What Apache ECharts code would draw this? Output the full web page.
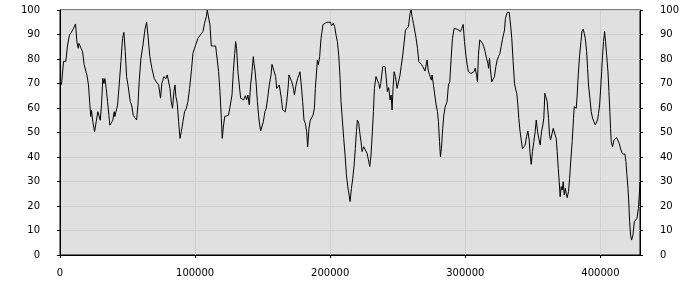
<!DOCTYPE html>
<html>
<head>
<meta charset="utf-8">
<script src="https://cdn.jsdelivr.net/npm/echarts@6/dist/echarts.min.js"></script>
<style>html,body{margin:0;padding:0;background:#fff}#c{width:700px;height:300px}</style>
</head>
<body>
<div id="c"></div>
<script>
var xTicks = [0, 100000, 200000, 300000, 400000];
var yTicks = [0, 10, 20, 30, 40, 50, 60, 70, 80, 90, 100];
var xs = [
1100,2600,4300,5600,7000,8500,10000,11500,12500,13500,14000,15400,16700,17900,19900,21100,22100,22800,23300,24300,25600,26800,28000,29000,29800,30700,31700,32500,33200,34200,35200,36200,36900,38100,39100,40100,40600,41900,42600,43800,45100,46300,47300,48300,49300,50500,52000,53000,54200,55400,56700,57700,58600,59900,61400,62800,64100,65100,66500,68000,69800,
71200,73000,74400,75400,76900,78400,79400,80400,81400,82300,83300,84300,85100,85800,86800,87800,88800,89800,91000,92200,93500,94700,95900,97200,98400,99600,100900,102100,103300,104600,105800,107000,108300,109000,110200,111000,112000,113500,115200,116400,117400,118400,119400,120100,121100,121900,123100,124800,126000,127300,128300,129300,130000,130700,131700,132700,133700,134700,135900,137200,138100,139100,140100,141100,142100,143100,
143600,144300,145100,146100,147300,148500,149500,150500,151700,152700,153700,154900,156200,156900,157700,158600,159600,160400,161400,162300,163100,163800,164800,165800,166800,167800,168800,169500,170500,171500,172500,173500,174700,175900,176900,177600,178600,179600,180600,181600,182600,183300,184300,185300,186300,187300,188300,189000,190000,190500,191200,192200,193200,194700,196200,197700,199100,200100,201100,202300,203300,204300,205300,206300,207300,208000,209000,210000,211000,212000,213000,214000,
214700,215700,216700,217700,218600,219400,220100,221100,222100,222800,223600,224800,226100,227300,228300,229300,230200,231200,232000,232700,233900,234900,235900,236700,237400,238900,239900,240600,241600,242300,243300,244300,245100,245800,246500,247300,248300,249500,250700,251700,252500,253700,254700,255700,256900,257900,259100,259900,260600,261600,262600,263600,264600,265600,266500,267500,268500,269500,270200,271000,271700,272500,273500,274200,274900,275400,276400,277400,278400,279400,280100,280900,281600,282300,283300,284100,285100,
286500,287500,288500,289500,290500,291700,293000,294200,295400,296400,297400,298400,299400,300400,301400,302300,303300,304300,305300,306300,307300,308300,309000,309700,310700,311700,312700,313700,314700,315700,316700,317200,317900,318600,319600,320600,321600,322600,323600,324600,325600,326500,327500,328300,329000,329700,331000,331700,332500,333500,334400,335400,336400,337400,338100,338900,339600,340400,341400,342300,343300,344300,345300,346300,347300,348000,348800,349700,350700,351700,352500,353500,354400,355400,356400,357400,
358100,358900,359900,360600,361600,362300,363100,364100,365100,365800,366500,367300,368000,368800,369500,370200,371000,371700,372500,373200,374000,374700,375400,376400,377200,378100,379100,380100,380600,381400,382100,382800,383600,384600,385600,386300,387300,388000,388800,389800,390500,391200,392200,393200,394200,395200,396200,397200,397900,398600,399400,400100,400900,401600,402300,403100,403800,404600,405600,406300,407000,407500,408000,409000,410000,411000,412000,413000,413900,415200,416400,417400,418100,418900,419600,420400,421100,421600,422300,423100,424100,425100,426100,427100,428100,428800,429300
];
var ys = [
69.5,79,79,85.7,89.8,91,92.5,94.3,87,84.4,86.4,85.7,83,77.6,73.5,69.4,61.2,56.5,59,54.4,50.3,54.4,58.5,59.2,55,61.2,72.1,70,72,68,62.6,57,53,53.3,55,58.5,56.5,56.3,61.2,69.4,79,88.4,90.9,83,72.8,68.7,62.6,61.2,57,56.5,55.1,61.2,70.7,80.3,85.7,91.8,95,89.8,81,76.2,72,
70.7,69.4,64,70,72.8,72,73.5,74.1,68,62.6,59.9,66.7,69.4,64.6,61.9,54.4,47.6,50.3,54.4,58.5,59.9,62.6,68,74.8,82.3,84.4,85,88.4,89.4,89.4,91.2,94.6,97.3,100,100,93.9,85.3,85.3,85.3,85.3,74.8,66.7,55.8,47.6,53.1,56.5,57.1,57.1,57.1,65.3,74.8,82.3,87.1,84.4,74.8,69.4,64,63.7,63.3,65,63.3,65.3,61.2,69.4,74.8,81,
78.2,75.5,70.7,62.6,55.1,50.6,50.3,54.4,58.5,59.9,64,69.4,73.5,77.8,78.2,74.8,72.8,68,67.3,69.4,69.4,64,59.2,59.6,58.5,62.6,68,73.5,74.1,70.7,68.7,65.3,69.4,72.1,73.5,74.8,69.4,62.6,55.1,53.7,50.3,44.2,51.7,55.1,54.4,57.1,59.9,68,75.5,79.6,77.6,81,88.4,94.1,94.6,95,95,95,93.6,94.6,93.2,89.8,87.1,81.6,72.1,62.6,55.1,47.6,40.8,32.7,27.9,24.5,21.8,
27.2,31.3,36.7,43.5,50.3,55.1,53.7,49,46.3,42.2,44.2,44.2,41.5,38.8,36.1,40.8,50.3,58.5,68,72.8,71.4,70,68,70,76.9,76.9,76.9,71.4,66.7,68.3,63.3,65.3,59.2,68,74.8,72.8,68,68,73.5,76.9,81.6,82.3,91.8,92.2,93.2,98.6,100,97.3,94.6,93.9,88.4,84.4,78.9,78.2,77.8,76.9,76.2,75.1,77.6,79.6,75.5,73.5,72.8,71.4,73.5,69.4,65.3,61.2,58.5,54.4,46.3,40.1,43.5,51.7,57.1,60.5,62.6,
69.4,70.7,80.3,88.4,92.5,92.2,92.1,92.1,91.2,92.5,94.1,87.1,81.6,77.6,74.8,74.1,74.1,74.1,74.8,76.2,73.5,70.7,81.6,87.8,88.4,86.4,85,83,80.3,78.2,76.2,80.3,75.5,70.7,70,72.8,76.9,79.6,81,82.3,85,88,88.4,91.8,96.6,99,99,99,93.9,88.4,78.9,70,67.3,66,61.2,55.8,51,46.9,43.3,43.3,44.9,48.3,50.6,46.9,40.8,37,42.2,46.3,50.3,55.1,50.3,47.6,44.9,50.3,53.1,55.8,66,
65.3,62.6,55.8,49,46.9,46.3,51.7,51,49,47.6,42.2,35.4,29.9,23.8,27.9,26.5,29.9,24.5,27.2,25.2,23.4,25.9,31.3,38.8,46.3,55.8,60.5,61.2,59.9,65.3,73.5,81.6,87.1,91.2,92.2,90.5,88.4,83,76.2,69.4,64,58.5,55.8,54.4,53.1,53.1,55.1,57.8,61.2,67.3,74.8,81.6,87.1,91.2,87.1,81.6,74.8,66.7,58.5,51.7,46.3,44.2,46.9,47.6,47.9,48,45.6,42.9,41.2,41.2,41.2,38.1,32.7,27.2,20.4,13.6,8.2,6.1,8.2,13.6,14.3,15,19,24.5,29.9,32.7,30.6
];
var data = xs.map(function (x, i) { return [x, ys[i]]; });
var lab = { color: '#000', fontFamily: 'DejaVu Sans', fontSize: 10, formatter: function (v) { return String(v); } };
var chart = echarts.init(document.getElementById('c'));
chart.setOption({
  animation: false,
  grid: { left: 60, right: 60, top: 10, bottom: 45, show: true, backgroundColor: '#e0e0e0', borderColor: '#000', borderWidth: 1 },
  xAxis: {
    type: 'value', min: xTicks[0], max: 429300, interval: 100000,
    axisLine: { lineStyle: { color: '#000' } },
    axisTick: { length: 3, lineStyle: { color: '#000' } },
    axisLabel: Object.assign({ margin: 13, showMaxLabel: false }, lab),
    splitLine: { show: true, lineStyle: { color: '#d0d0d0' } }
  },
  yAxis: [{
    type: 'value', min: yTicks[0], max: yTicks[yTicks.length - 1], interval: 10, position: 'left',
    axisLine: { show: true, lineStyle: { color: '#000' } },
    axisTick: { show: true, length: 3, lineStyle: { color: '#000' } },
    axisLabel: Object.assign({ margin: 20 }, lab),
    splitLine: { show: true, lineStyle: { color: '#d0d0d0' } }
  }, {
    type: 'value', min: yTicks[0], max: yTicks[yTicks.length - 1], interval: 10, position: 'right',
    axisLine: { show: true, lineStyle: { color: '#000' } },
    axisTick: { show: true, length: 3, lineStyle: { color: '#000' } },
    axisLabel: Object.assign({ margin: 20 }, lab),
    splitLine: { show: false }
  }],
  series: [{
    type: 'line', data: data, showSymbol: false, symbol: 'none',
    lineStyle: { color: '#000', width: 1 }, silent: true
  }]
});
</script>
</body>
</html>
